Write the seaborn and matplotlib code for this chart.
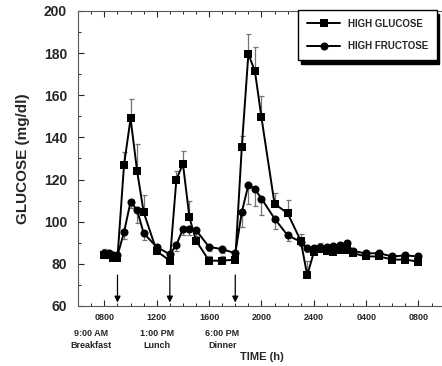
import numpy as np
import pandas as pd
import seaborn as sns
import matplotlib.pyplot as plt
from matplotlib.ticker import MultipleLocator

# hours from midnight of day 1 (24 = midnight, 32 = 0800 next day)
time_h = [8, 8.33, 8.67, 9, 9.5, 10, 10.5, 11, 12, 13, 13.5, 14, 14.5, 15, 16, 17, 18,
          18.5, 19, 19.5, 20, 21, 22, 23, 23.5, 24, 24.5, 25, 25.5, 26, 26.5, 27,
          28, 29, 30, 31, 32]
glucose = [84, 84, 83, 83, 127, 149, 124, 104.5, 86, 81.5, 120, 127.5, 102, 91, 81.5, 81.5, 82,
           135.5, 179.5, 171.5, 149.5, 108.5, 104, 91, 74.5, 85.5, 87, 86, 85.5, 86.5, 86.5, 85,
           83.5, 83.5, 82, 82, 81]
glucose_err = [3, 2, 2, 2, 6, 9, 13, 8, 2, 2, 4, 6, 8, 4, 2, 2, 2,
               5, 9.5, 11.5, 10, 5, 6.5, 3, 7, 2, 3, 2, 2, 2, 2, 2,
               1.5, 1.5, 1.5, 1.5, 1.5]
fructose = [85, 85, 84, 84, 95, 109.5, 105.5, 94.5, 88, 84.5, 89, 96.5, 96.5, 96, 88, 87, 85,
            104.5, 117.5, 115.5, 111, 101.5, 93.5, 90.5, 87.5, 87.5, 88, 88, 88.5, 89, 90, 86,
            85, 85, 83.5, 84, 83.5]
fructose_err = [2, 2, 2, 2, 3, 3, 6, 3, 2, 2, 3, 3, 3, 3, 2, 2, 2,
                7, 9, 8, 8, 5, 2.5, 2, 2, 2, 2, 2, 2, 2, 2, 2,
                1.5, 1.5, 1.5, 1.5, 1.5]

tick_pos = [8, 12, 16, 20, 24, 28, 32]
tick_labels = ['0800', '1200', '1600', '2000', '2400', '0400', '0800']
meal_time = [9, 13, 18]
meal_text_x = [7, 12, 17]
meal_text = ['9:00 AM\nBreakfast', '1:00 PM\nLunch', '6:00 PM\nDinner']

sns.set_style("ticks")
plt.rcParams['font.family'] = ['Liberation Sans', 'DejaVu Sans']
plt.rcParams['font.weight'] = 'bold'

df = pd.DataFrame({'time': time_h * 2,
                   'glucose': glucose + fructose,
                   'diet': ['HIGH GLUCOSE'] * len(time_h) + ['HIGH FRUCTOSE'] * len(time_h)})

fig = plt.figure(figsize=(4.42, 3.66), dpi=100)
ax = fig.add_axes([0.177, 0.164, 0.829, 0.806])

# one-sided error bars: glucose up, fructose down
n = len(time_h)
ax.errorbar(time_h, glucose, yerr=[[0] * n, glucose_err], fmt='none',
            ecolor='0.45', elinewidth=0.9, capsize=1.8, capthick=0.9, zorder=1)
ax.errorbar(time_h, fructose, yerr=[fructose_err, [0] * n], fmt='none',
            ecolor='0.45', elinewidth=0.9, capsize=1.8, capthick=0.9, zorder=1)

sns.lineplot(data=df, x='time', y='glucose', hue='diet', style='diet',
             palette=['black', 'black'], markers={'HIGH GLUCOSE': 's', 'HIGH FRUCTOSE': 'o'},
             dashes=False, markersize=5.8, markeredgewidth=0, linewidth=1.4,
             ax=ax, zorder=3)

ax.set_xlim(6, 34)
ax.set_ylim(60, 200)
ax.set_xticks(tick_pos)
ax.set_xticklabels(tick_labels, fontsize=6.5, fontweight='bold')
ax.xaxis.set_minor_locator(MultipleLocator(1))
ax.yaxis.set_major_locator(MultipleLocator(20))
ax.yaxis.set_minor_locator(MultipleLocator(10))
ax.tick_params(axis='y', which='major', labelsize=10, direction='in', length=4, width=0.8, pad=8)
ax.tick_params(axis='y', which='minor', direction='in', length=2.5, width=0.7)
ax.tick_params(axis='x', which='major', direction='in', length=4, width=0.8, pad=5, top=True)
ax.tick_params(axis='x', which='minor', direction='in', length=2, width=0.7, top=True)
for lab in ax.get_yticklabels():
    lab.set_fontweight('bold')
for s in ax.spines.values():
    s.set_linewidth(0.8)
    s.set_color('0.35')

ax.set_xlabel('')
ax.set_ylabel('GLUCOSE (mg/dl)', fontsize=11, fontweight='bold', labelpad=10)
fig.text(262 / 442, 1 - 357 / 366, 'TIME (h)', ha='center', va='center',
         fontsize=8, fontweight='bold')

for t in meal_time:
    ax.annotate('', xy=(t, 60.3), xytext=(t, 76),
                arrowprops=dict(arrowstyle='-|>', color='black', lw=0.9, mutation_scale=9))
for x, s in zip(meal_text_x, meal_text):
    ax.text(x, -0.077, s, transform=ax.get_xaxis_transform(), ha='center', va='top',
            fontsize=6.5, fontweight='bold', linespacing=1.45)

leg = ax.legend(loc='upper right', bbox_to_anchor=(437 / 442, 1 - 10 / 366),
                bbox_transform=fig.transFigure, borderaxespad=0, fancybox=False,
                shadow={'color': 'black', 'alpha': 1, 'ox': 1.5, 'oy': -3},
                prop={'size': 7, 'weight': 'bold'}, handlelength=3.4, labelspacing=1.3,
                borderpad=0.9, handletextpad=0.8, title=None)
leg.get_frame().set_edgecolor('black')
leg.get_frame().set_linewidth(1.0)
leg.get_frame().set_alpha(1)
for txt in leg.get_texts():
    txt.set_fontweight('bold')

fig.savefig('out.png', dpi=100)
